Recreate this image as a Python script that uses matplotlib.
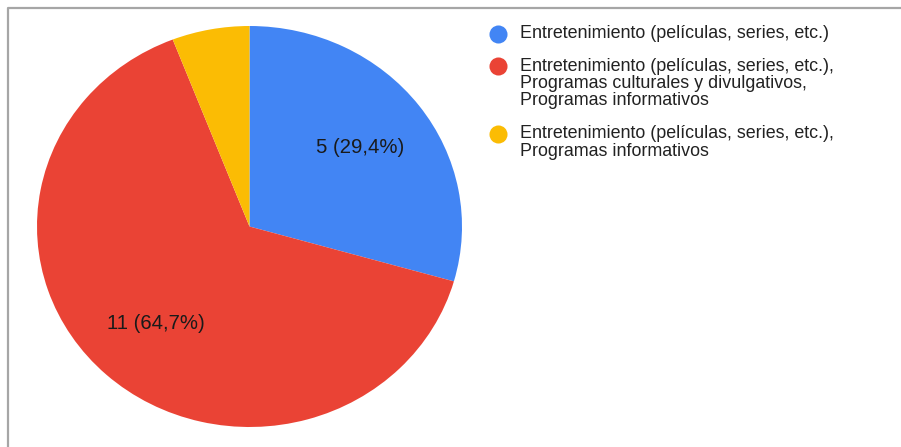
import matplotlib.pyplot as plt
from matplotlib.lines import Line2D

plt.rcParams['font.family'] = ['Liberation Sans', 'DejaVu Sans']

labels = [
    "Entretenimiento (películas, series, etc.)",
    "Entretenimiento (películas, series, etc.),\nProgramas culturales y divulgativos,\nProgramas informativos",
    "Entretenimiento (películas, series, etc.),\nProgramas informativos",
]
values = [5, 11, 1]
colors = ["#4285F4", "#EA4335", "#FBBC04"]

W, H = 901, 447
total = sum(values)


def fmt_pct(pct):
    # small slices get no label, like the original
    if pct < 10:
        return ""
    n = int(round(pct * total / 100))
    return f"{n} ({pct:.1f}%)".replace(".", ",")


fig = plt.figure(figsize=(W / 100, H / 100), dpi=100)

# pie area in pixels: x 37..462, y 26..427 (slightly wider than tall)
ax = fig.add_axes([37 / W, (H - 427) / H, 425 / W, 401 / H])
wedges, texts, autotexts = ax.pie(
    values, colors=colors, startangle=90, counterclock=False,
    autopct=fmt_pct, pctdistance=0.655,
    wedgeprops=dict(linewidth=0),
    textprops=dict(fontsize=14.6, color="#1a1a1a"),
)
ax.set_aspect("auto")
ax.set_xlim(-1, 1)
ax.set_ylim(-1, 1)
ax.axis("off")

# legend drawn by hand to match spacing
line_h = 17.3
y = 33.5
for lab, col in zip(labels, colors):
    fig.add_artist(Line2D([498.5 / W], [1 - y / H], marker="o", markersize=13,
                          color=col, markeredgewidth=0, transform=fig.transFigure))
    for i, part in enumerate(lab.split("\n")):
        fig.text(520 / W, 1 - (y + i * line_h) / H, part, fontsize=12.9,
                 color="#222222", va="center", ha="left")
    y += len(lab.split("\n")) * line_h + 15.5

# gray frame on top and left
fig.add_artist(Line2D([8 / W, 8 / W, 1], [0, 1 - 8 / H, 1 - 8 / H],
                      color="#a6a6a6", linewidth=1.6, transform=fig.transFigure))

fig.savefig("out.png", dpi=100)
